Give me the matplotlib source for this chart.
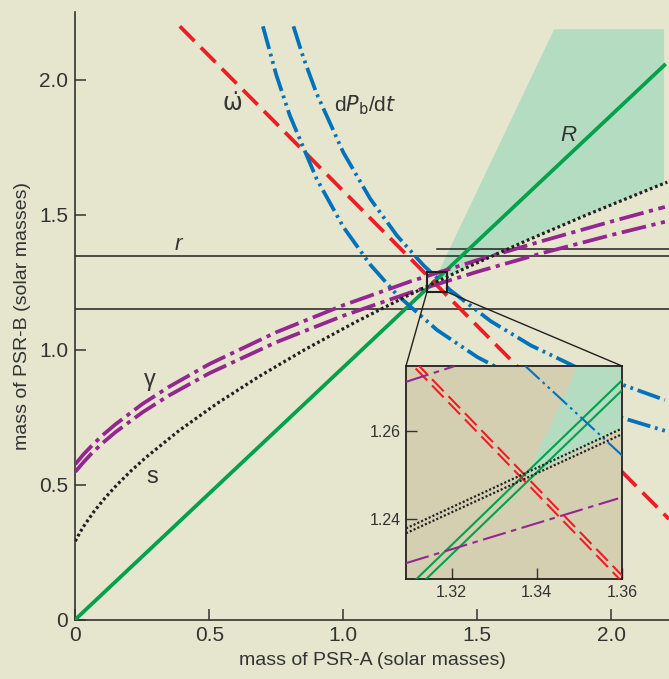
import matplotlib
matplotlib.use("Agg")
import matplotlib.pyplot as plt
from matplotlib.patches import Polygon, Rectangle, ConnectionPatch

plt.rcParams['font.family'] = ['Liberation Sans', 'DejaVu Sans']
plt.rcParams['lines.scale_dashes'] = False

# colours
bg = '#e6e5ce'
inset_bg = '#d4cfb1'
shade = '#b4dcc1'
green = '#00a14b'
red = '#ee1d25'
blue = '#0072bc'
purple = '#93278f'
black = '#231f20'
txt = '#333333'

# ---- values (mass A, mass B) ----
# periastron advance (total mass line)
omega_a = [0.39, 2.215]
omega_b = [2.197, 0.372]

# mass ratio R
ratio_a = [0.0, 2.198]
ratio_b = [0.0, 2.053]

# Shapiro range r (horizontal lines)
r_levels = [1.346, 1.149]
r_extra = 1.371
r_extra_start = 1.35

# Shapiro shape s
s_a = [0.0, 0.0105, 0.022, 0.0345, 0.0698, 0.1106, 0.1566, 0.2074, 0.2631, 0.3876,
       0.5287, 0.6855, 0.857, 1.0424, 1.2411, 1.4524, 1.6761, 1.9114, 2.1584, 2.2089]
s_b = [0.290, 0.31, 0.33, 0.35, 0.40, 0.45, 0.50, 0.55, 0.60, 0.70,
       0.80, 0.90, 1.00, 1.10, 1.20, 1.30, 1.40, 1.50, 1.60, 1.62]

# gravitational redshift gamma (two curves)
gam_a = [0.0, 0.03, 0.06, 0.1, 0.15, 0.25, 0.35, 0.5, 0.75, 1.0, 1.25, 1.5, 1.75, 2.0, 2.2]
gam_lo = [0.547, 0.582, 0.614, 0.652, 0.694, 0.767, 0.830, 0.912, 1.027, 1.125,
          1.211, 1.288, 1.359, 1.424, 1.473]
gam_hi = [0.575, 0.611, 0.642, 0.681, 0.723, 0.798, 0.862, 0.946, 1.064, 1.164,
          1.252, 1.331, 1.404, 1.474, 1.528]

# orbital decay dPb/dt (two curves)
pb_lo_a = [0.70, 0.75, 0.8, 0.9, 1.0, 1.1, 1.2, 1.35, 1.5, 1.7, 1.9, 2.2]
pb_lo_b = [2.197, 2.017, 1.868, 1.633, 1.454, 1.315, 1.203, 1.072, 0.972, 0.868, 0.789, 0.699]
pb_hi_a = [0.814, 0.85, 0.9, 1.0, 1.1, 1.2, 1.3, 1.4, 1.55, 1.7, 1.9, 2.2]
pb_hi_b = [2.197, 2.084, 1.949, 1.730, 1.559, 1.422, 1.311, 1.219, 1.105, 1.015, 0.920, 0.813]

# excluded (shaded) wedge
wedge_a = [1.3375, 1.787, 2.197, 2.197, 1.9114, 1.6761, 1.4524, 1.36]
wedge_b = [1.2495, 2.186, 2.186, 1.615, 1.50, 1.40, 1.30, 1.2606]

# ---- values ----
in_x = [1.30, 1.37]
in_omega1 = [1.2858, 1.2158]
in_omega2 = [1.2872, 1.2172]
in_ratio1 = [1.2154, 1.2809]
in_ratio2 = [1.2133, 1.2786]
in_s1_x = [1.3093, 1.36]
in_s1 = [1.2379, 1.2606]
in_s2 = [1.2368, 1.2593]
in_gam_lo_x = [1.3093, 1.3591]
in_gam_lo = [1.2300, 1.2447]
in_gam_hi_x = [1.3093, 1.3208]
in_gam_hi = [1.2712, 1.2748]
in_pb_x = [1.3373, 1.36]
in_pb = [1.2748, 1.2545]

W, H = 669, 679
fig = plt.figure(figsize=(W / 100, H / 100), dpi=100)
fig.patch.set_facecolor(bg)

ax = fig.add_axes([75.3 / W, 59.5 / H, 1 - 75.3 / W, 607.5 / H])
ax.set_facecolor(bg)
ax.set_xlim(0, 593.7 / 268)
ax.set_ylim(0, 607.5 / 270)

dash_red = (0, (15, 6.5))
dash_blue = (0, (17, 3.5, 2, 3.5, 2, 3.5))
dash_purple = (0, (18, 4, 3, 4))
dots = (0, (2, 2))
lw = 2.7

ax.add_patch(Polygon(list(zip(wedge_a, wedge_b)), closed=True, fc=shade, ec='none', zorder=1))

for lev in r_levels:
    ax.axhline(lev, color=black, lw=1.1, zorder=2)
ax.plot([r_extra_start, 2.215], [r_extra, r_extra], color=black, lw=1.1, zorder=2)

ax.plot(ratio_a, ratio_b, color=green, lw=lw, zorder=3)
ax.plot(omega_a, omega_b, color=red, lw=lw, ls=dash_red, zorder=4)
ax.plot(pb_lo_a, pb_lo_b, color=blue, lw=lw, ls=dash_blue, zorder=4)
ax.plot(pb_hi_a, pb_hi_b, color=blue, lw=lw, ls=dash_blue, zorder=4)
ax.plot(gam_a, gam_lo, color=purple, lw=lw, ls=dash_purple, zorder=4)
ax.plot(gam_a, gam_hi, color=purple, lw=lw, ls=dash_purple, zorder=4)
ax.plot(s_a, s_b, color=black, lw=2.3, ls=dots, zorder=5)

# zoom box
ax.add_patch(Rectangle((1.312, 1.213), 0.075, 0.074, fill=False, ec=black, lw=1.5, zorder=6))

for sp in ['top', 'right']:
    ax.spines[sp].set_visible(False)
for sp in ['left', 'bottom']:
    ax.spines[sp].set_color(txt)
    ax.spines[sp].set_linewidth(1.2)

ax.set_xticks([0, 0.5, 1.0, 1.5, 2.0])
ax.set_xticklabels(['0', '0.5', '1.0', '1.5', '2.0'])
ax.set_yticks([0, 0.5, 1.0, 1.5, 2.0])
ax.set_yticklabels(['0', '0.5', '1.0', '1.5', '2.0'])
ax.tick_params(direction='in', length=8, width=1.1, color=txt, labelcolor=txt,
               labelsize=15, pad=5)
ax.set_xlabel('mass of PSR-A (solar masses)', fontsize=14, color=txt, labelpad=5)
ax.set_ylabel('mass of PSR-B (solar masses)', fontsize=14, color=txt, labelpad=6)

# curve labels
ax.text(0.585, 1.913, '\u03c9\u0307', fontsize=17, color=txt, ha='center', va='center',
        family=['DejaVu Sans'])
ax.text(1.08, 1.905, r'd$P_\mathrm{b}$/d$t$', fontsize=15, color=txt, ha='center', va='center')
ax.text(1.838, 1.794, 'R', fontsize=16, style='italic', color=txt, ha='center', va='center')
ax.text(0.384, 1.39, 'r', fontsize=16, style='italic', color=txt, ha='center', va='center')
ax.text(0.279, 0.887, '\u03b3', fontsize=17, color=txt, ha='center', va='center')
ax.text(0.286, 0.528, 's', fontsize=17, color=txt, ha='center', va='center')

# ---- inset ----
ins = fig.add_axes([406 / W, (H - 579) / H, 216 / W, 213 / H])
ins.set_facecolor(inset_bg)
ins.set_xlim(1.3093, 1.36)
ins.set_ylim(1.2264, 1.2748)
ins.add_patch(Polygon(list(zip(wedge_a, wedge_b)), closed=True, fc=shade, ec='none', zorder=1))

ilw = 1.5
ins.plot(in_x, in_ratio1, color=green, lw=ilw, zorder=3)
ins.plot(in_x, in_ratio2, color=green, lw=ilw, zorder=3)
ins.plot(in_x, in_omega1, color=red, lw=ilw, ls=(0, (12, 5)), zorder=4)
ins.plot(in_x, in_omega2, color=red, lw=ilw, ls=(0, (12, 5)), zorder=4)
ins.plot(in_pb_x, in_pb, color=blue, lw=ilw, ls=(0, (14, 3, 2, 3, 2, 3)), zorder=4)
ins.plot(in_gam_lo_x, in_gam_lo, color=purple, lw=ilw, ls=(0, (17, 4, 4, 4)), zorder=4)
ins.plot(in_gam_hi_x, in_gam_hi, color=purple, lw=ilw, ls=(0, (17, 4, 4, 4)), zorder=4)
ins.plot(in_s1_x, in_s1, color=black, lw=1.6, ls=(0, (1.5, 1.5)), zorder=5)
ins.plot(in_s1_x, in_s2, color=black, lw=1.6, ls=(0, (1.5, 1.5)), zorder=5)

for sp in ins.spines.values():
    sp.set_color(black)
    sp.set_linewidth(1.3)
ins.set_xticks([1.32, 1.34, 1.36])
ins.set_xticklabels(['1.32', '1.34', '1.36'])
ins.set_yticks([1.24, 1.26])
ins.set_yticklabels(['1.24', '1.26'])
ins.tick_params(direction='in', length=8, width=1.0, color=txt, labelcolor=txt,
                labelsize=11.5, pad=4)

# lines from the zoom box to the inset
for xa, xi in [(1.312, 0.0), (1.387, 1.0)]:
    con = ConnectionPatch(xyA=(xa, 1.213), coordsA=ax.transData,
                          xyB=(xi, 1.0), coordsB=ins.transAxes,
                          color=black, lw=1.0, zorder=7)
    fig.add_artist(con)

fig.savefig('out.png', dpi=100, facecolor=bg)
